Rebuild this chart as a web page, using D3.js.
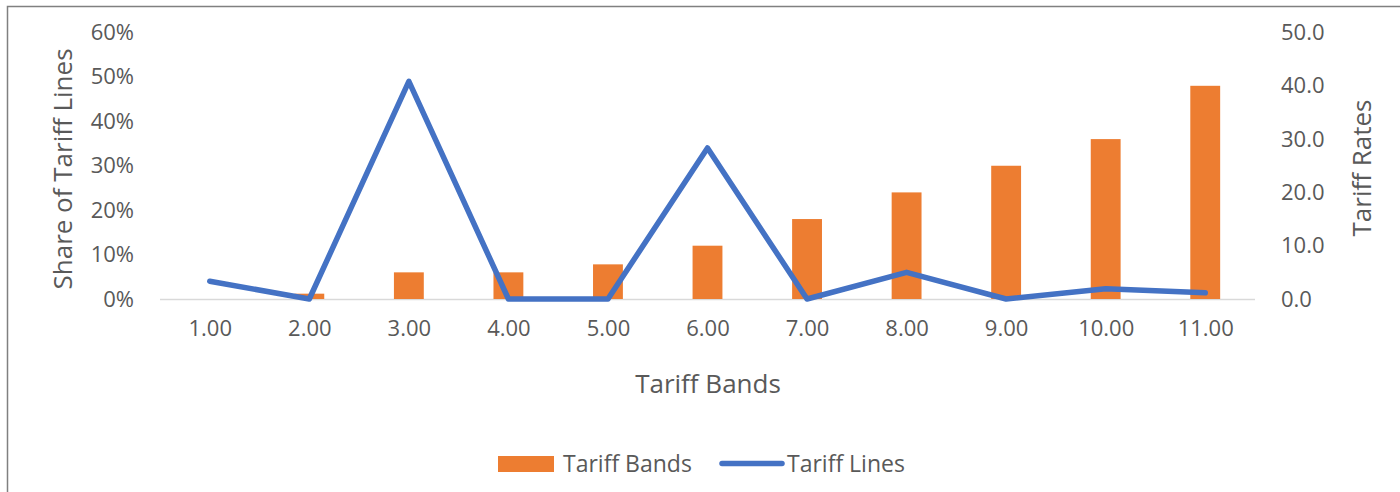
<!DOCTYPE html>
<html>
<head>
  <meta charset="utf-8">
  <title>Tariff Bands and Tariff Lines</title>
  <style>
    body { margin: 0; background: #fff; }
    text { font-family: 'Open Sans', sans-serif; fill: #595959; }
  </style>
</head>
<body>
  <div id="chart"></div>
  <script src="https://cdn.jsdelivr.net/npm/d3@7"></script>
  <script>

    function translate(x, y) {
      return 'translate(' + x + ', ' + y + ')';
    }

    // data
    let bands = ['1.00', '2.00', '3.00', '4.00', '5.00', '6.00',
                 '7.00', '8.00', '9.00', '10.00', '11.00'];
    let tariffRates = [0, 1, 5, 5, 6.5, 10, 15, 20, 25, 30, 40];     // bars, right axis
    let lineShares = [0.04, 0, 0.49, 0, 0, 0.34, 0, 0.06, 0, 0.023, 0.014]; // line, left axis
    let leftTicks = [0, 0.1, 0.2, 0.3, 0.4, 0.5, 0.6];
    let rightTicks = [0, 10, 20, 30, 40, 50];

    let svgWidth = 1400;
    let svgHeight = 492;
    let plot = {left: 160, right: 1255, top: 32.5, bottom: 299};

    let orange = '#ED7D31';
    let blue = '#4472C4';

    let svg = d3.select('#chart')
      .append('svg')
        .attr('width', svgWidth)
        .attr('height', svgHeight);

    // frame of the chart area
    svg.append('rect')
      .attr('x', 7.5)
      .attr('y', 6.5)
      .attr('width', 1420)
      .attr('height', 520)
      .style('fill', 'none')
      .style('stroke', '#808080')
      .style('stroke-width', 1.5);

    let x = d3.scaleBand()
      .domain(bands)
      .range([plot.left, plot.right])
      .paddingInner(0.7)
      .paddingOuter(0.35);

    let xPoint = d3.scalePoint()
      .domain(bands)
      .range([plot.left, plot.right])
      .padding(0.5);

    let yLeft = d3.scaleLinear()
      .domain([0, 0.6])
      .range([plot.bottom, plot.top]);

    let yRight = d3.scaleLinear()
      .domain([0, 50])
      .range([plot.bottom, plot.top]);

    // baseline
    svg.append('line')
      .attr('x1', plot.left)
      .attr('x2', plot.right)
      .attr('y1', yLeft(0) + 0.5)
      .attr('y2', yLeft(0) + 0.5)
      .style('stroke', '#d9d9d9')
      .style('stroke-width', 1.5);

    // bars
    svg.selectAll('.bar')
      .data(tariffRates)
      .enter()
      .append('rect')
        .attr('class', 'bar')
        .attr('x', (d, i) => x(bands[i]))
        .attr('width', x.bandwidth())
        .attr('y', d => yRight(d))
        .attr('height', d => yRight(0) - yRight(d))
        .style('fill', orange);

    // line
    let line = d3.line()
      .x((d, i) => xPoint(bands[i]))
      .y(d => yLeft(d));

    svg.append('path')
      .datum(lineShares)
      .attr('d', line)
      .style('fill', 'none')
      .style('stroke', blue)
      .style('stroke-width', 5.5)
      .style('stroke-linejoin', 'round')
      .style('stroke-linecap', 'round');

    // axes
    let leftAxis = d3.axisLeft(yLeft)
      .tickValues(leftTicks)
      .tickFormat(d3.format('.0%'))
      .tickSize(0)
      .tickPadding(0);

    svg.append('g')
      .attr('transform', translate(134, 0))
      .call(leftAxis)
      .call(g => g.select('.domain').remove())
      .selectAll('text')
        .style('font-size', '22px')
        .style('font-family', "'Open Sans', sans-serif")
        .style('fill', '#595959');

    let rightAxis = d3.axisRight(yRight)
      .tickValues(rightTicks)
      .tickFormat(d3.format('.1f'))
      .tickSize(0)
      .tickPadding(0);

    svg.append('g')
      .attr('transform', translate(1281, 0))
      .call(rightAxis)
      .call(g => g.select('.domain').remove())
      .selectAll('text')
        .style('font-size', '22px')
        .style('font-family', "'Open Sans', sans-serif")
        .style('fill', '#595959');

    let bottomAxis = d3.axisBottom(xPoint)
      .tickSize(0)
      .tickPadding(0);

    svg.append('g')
      .attr('transform', translate(0, 320))
      .call(bottomAxis)
      .call(g => g.select('.domain').remove())
      .selectAll('text')
        .style('font-size', '22px')
        .style('font-family', "'Open Sans', sans-serif")
        .style('fill', '#595959');

    // axis titles
    svg.append('text')
      .attr('transform', translate(62, 169) + ' rotate(-90)')
      .attr('text-anchor', 'middle')
      .attr('dominant-baseline', 'central')
      .style('font-size', '26px')
      .text('Share of Tariff Lines');

    svg.append('text')
      .attr('transform', translate(1361, 168) + ' rotate(-90)')
      .attr('text-anchor', 'middle')
      .attr('dominant-baseline', 'central')
      .style('font-size', '26px')
      .text('Tariff Rates');

    svg.append('text')
      .attr('x', 708)
      .attr('y', 383)
      .attr('text-anchor', 'middle')
      .attr('dominant-baseline', 'central')
      .style('font-size', '26px')
      .text('Tariff Bands');

    // legend
    let legend = svg.append('g');

    legend.append('rect')
      .attr('x', 498)
      .attr('y', 456)
      .attr('width', 56)
      .attr('height', 16)
      .style('fill', orange);

    legend.append('text')
      .attr('x', 563)
      .attr('y', 463)
      .attr('dominant-baseline', 'central')
      .style('font-size', '23px')
      .text('Tariff Bands');

    legend.append('line')
      .attr('x1', 722)
      .attr('x2', 782)
      .attr('y1', 463.5)
      .attr('y2', 463.5)
      .style('stroke', blue)
      .style('stroke-width', 5.5)
      .style('stroke-linecap', 'round');

    legend.append('text')
      .attr('x', 787)
      .attr('y', 463)
      .attr('dominant-baseline', 'central')
      .style('font-size', '23px')
      .text('Tariff Lines');

  </script>
</body>
</html>
